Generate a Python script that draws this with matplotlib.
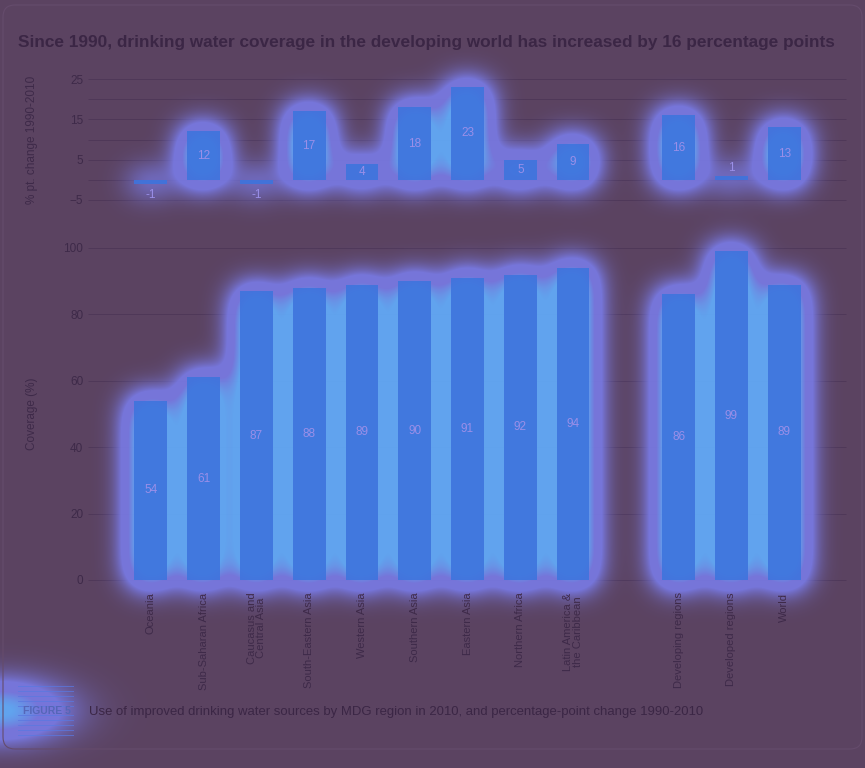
import numpy as np
import matplotlib
matplotlib.use("Agg")
import matplotlib.pyplot as plt
from matplotlib.lines import Line2D
from matplotlib.patches import FancyBboxPatch
from matplotlib.colors import to_rgb

plt.rcParams['font.family'] = ['Liberation Sans', 'DejaVu Sans']

regions = ["Oceania", "Sub-Saharan Africa", "Caucasus and\nCentral Asia", "South-Eastern Asia",
           "Western Asia", "Southern Asia", "Eastern Asia", "Northern Africa",
           "Latin America &\nthe Caribbean", "Developing regions", "Developed regions", "World"]
positions = [0, 1, 2, 3, 4, 5, 6, 7, 8, 10, 11, 12]
change = [-1, 12, -1, 17, 4, 18, 23, 5, 9, 16, 1, 13]
coverage = [54, 61, 87, 88, 89, 90, 91, 92, 94, 86, 99, 89]

bg = '#5b4361'
dark = '#3b2645'
grid = '#4f3858'
bar_col = '#3e74dd'
val_col = '#9a8fe8'
tick_col = '#3e2a49'

W, H = 865, 768
fig = plt.figure(figsize=(W / 100, H / 100), dpi=100, facecolor=bg)

glow_ax = fig.add_axes([0, 0, 1, 1], zorder=0)
glow_ax.set_axis_off()
glow_ax.set_xlim(0, W)
glow_ax.set_ylim(0, H)

ax1 = fig.add_axes([88 / W, 1 - 200 / H, 758 / W, 121 / H], zorder=2)
ax2 = fig.add_axes([88 / W, 1 - 580 / H, 758 / W, 332 / H], zorder=2)

for ax in (ax1, ax2):
    ax.set_facecolor('none')
    ax.set_xlim(-1.19, 13.17)
    for s in ax.spines.values():
        s.set_visible(False)
    ax.tick_params(length=0, colors=tick_col, labelsize=8.5)

# top panel: percentage-point change
ax1.set_ylim(-5, 25)
ax1.set_yticks([-5, 5, 15, 25])
ax1.set_xticks([])
ax1.bar(positions, change, width=0.62, color=bar_col, alpha=0.9, zorder=3)
for x, v in zip(positions, change):
    if v < 0:
        y = v - 2.7
    elif v < 3:
        y = v + 2
    else:
        y = v / 2
    ax1.text(x, y, str(v), ha='center', va='center', color=val_col, fontsize=8.5, zorder=4)
ax1.set_ylabel('% pt. change 1990-2010', color=tick_col, fontsize=8.5)
ax1.yaxis.set_label_coords(-0.066, 0.5)

# bottom panel: coverage
ax2.set_ylim(0, 100)
ax2.set_yticks(range(0, 101, 20))
ax2.bar(positions, coverage, width=0.62, color=bar_col, alpha=0.9, zorder=3)
for x, v in zip(positions, coverage):
    ax2.text(x, v / 2, str(v), ha='center', va='center', color=val_col, fontsize=8.5, zorder=4)
ax2.set_xticks(positions)
ax2.set_xticklabels(regions, rotation=90, va='top', ha='center', fontsize=8,
                    color=tick_col, linespacing=0.95)
ax2.tick_params(axis='x', pad=9)
ax2.set_ylabel('Coverage (%)', color=tick_col, fontsize=8.5)
ax2.yaxis.set_label_coords(-0.066, 0.5)

# gridlines drawn underneath the glow, in pixel space
for ax, ticks in ((ax1, range(-5, 26, 5)), (ax2, range(0, 101, 20))):
    x0, x1 = ax.transAxes.transform([(0, 0), (1, 0)])[:, 0]
    for tv in ticks:
        py = ax.transData.transform((0, tv))[1]
        glow_ax.hlines(py, x0, x1, color=grid, lw=0.7, zorder=0)

# glow, built from the bar extents in pixel space
mask = np.zeros((H, W))
for ax, vals in ((ax1, change), (ax2, coverage)):
    for x, v in zip(positions, vals):
        (x0, y0), (x1, y1) = ax.transData.transform([(x - 0.31, min(0, v)), (x + 0.31, max(0, v))])
        mask[int(y0) - 2:int(y1) + 2, int(x0) - 2:int(x1) + 2] = 1.0


def blur2d(a, sig):
    k = np.exp(-0.5 * (np.arange(-3 * sig, 3 * sig + 1) / sig) ** 2)
    k /= k.sum()
    a = np.apply_along_axis(lambda r: np.convolve(r, k, mode='same'), 1, a)
    return np.apply_along_axis(lambda c: np.convolve(c, k, mode='same'), 0, a)


b = blur2d(mask, 15)
yy, xx = np.mgrid[0:H, 0:W]
b = b + 0.6 * np.exp(-((xx / 62.0) ** 2 + ((yy - (H - 711)) / 30.0) ** 2))

c_lo = np.array(to_rgb('#7879e2'))
c_hi = np.array(to_rgb('#62aaf8'))
mix = np.clip((b - 0.4) / 0.18, 0, 1)[..., None]
rgba = np.zeros((H, W, 4))
rgba[..., :3] = c_lo * (1 - mix) + c_hi * mix
rgba[..., 3] = np.clip(b * 4.0, 0, 0.94)
glow_ax.imshow(rgba, origin='lower', extent=[0, W, 0, H], aspect='auto',
               interpolation='bilinear', zorder=1)
glow_ax.add_patch(FancyBboxPatch((3, 19), 859, 744, boxstyle='round,pad=0,rounding_size=12',
                                 facecolor='none', edgecolor='#654c6c', lw=0.8, zorder=2))
glow_ax.set_xlim(0, W)
glow_ax.set_ylim(0, H)


def fit_text(txt, width_px):
    fig.canvas.draw()
    w = txt.get_window_extent().width
    txt.set_fontsize(txt.get_fontsize() * width_px / w)


title = fig.text(18 / W, 1 - 43 / H,
                 'Since 1990, drinking water coverage in the developing world has increased by 16 percentage points',
                 ha='left', va='center', fontsize=12, fontweight='bold', color=dark)
fit_text(title, 813)

# caption with striped marker
for i in range(11):
    if i == 5:
        continue
    yl = 1 - (686 + i * 4.9) / H
    fig.add_artist(Line2D([18 / W, 73 / W], [yl, yl], transform=fig.transFigure,
                          color='#5a78e0', lw=0.7, alpha=0.75))
fig.text(23 / W, 1 - 711 / H, 'FIGURE 5', ha='left', va='center', fontsize=7.5,
         fontweight='bold', color='#5566b8')
cap = fig.text(89 / W, 1 - 712 / H,
               'Use of improved drinking water sources by MDG region in 2010, and percentage-point change 1990-2010',
               ha='left', va='center', fontsize=10, color=dark)
fit_text(cap, 617)

fig.savefig('out.png', dpi=100, facecolor=bg)
